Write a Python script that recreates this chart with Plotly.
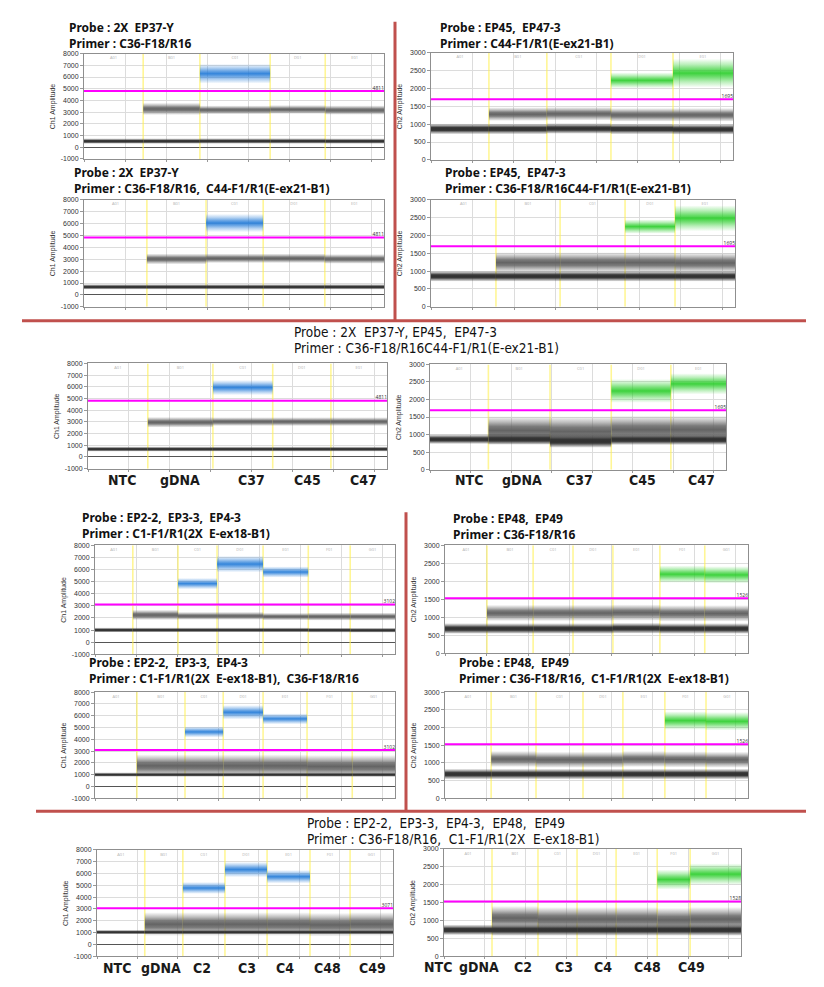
import plotly.graph_objects as go

W, H = 824, 987

# ------------------------------------------------------------------ data
WELLS_A = ["NTC", "gDNA", "C37", "C45", "C47"]
WELLS_B = ["NTC", "gDNA", "C2", "C3", "C4", "C48", "C49"]
IDS_A = ["A01", "B01", "C01", "D01", "E01"]
IDS_B = ["A01", "B01", "C01", "D01", "E01", "F01", "G01"]
CH1_TICKS = [-1000, 0, 1000, 2000, 3000, 4000, 5000, 6000, 7000, 8000]
CH2_TICKS = [0, 500, 1000, 1500, 2000, 2500, 3000]

# panel 1 : Ch1, Probe 2X EP37-Y / Primer C36-F18/R16
P1_EV = [14400, 13800, 17100, 13400, 14300]
P1_NEG = [560, 560, 570, 570, 560]
P1_NEG_SD = [140, 140, 140, 140, 140]
P1_MID = [None, 3300, 3220, 3250, 3200]
P1_MID_SD = [None, 220, 160, 160, 170]
P1_POS = [None, None, 6300, None, None]
P1_POS_SD = [None, None, 420, None, None]
P1_THR = 4811

# panel 2 : Ch2, Probe EP45, EP47-3 / Primer C44-F1/R1
P2_EV = [14000, 14000, 15500, 15000, 14500]
P2_NEG = [880, 880, 890, 880, 870]
P2_NEG_SD = [85, 85, 85, 85, 85]
P2_MID = [None, 1290, 1300, 1270, 1270]
P2_MID_SD = [None, 80, 80, 80, 80]
P2_POS = [None, None, None, 2230, 2430]
P2_POS_SD = [None, None, None, 110, 200]
P2_THR = 1695

# panel 3 : Ch1
P3_EV = [15300, 14400, 13900, 15000, 14400]
P3_NEG = [720, 720, 720, 720, 720]
P3_NEG_SD = [130, 130, 130, 130, 130]
P3_MID = [None, 3050, 3100, 3100, 3050]
P3_MID_SD = [None, 190, 170, 170, 170]
P3_POS = [None, None, 6050, None, None]
P3_POS_SD = [None, None, 380, None, None]
P3_THR = 4811

# panel 4 : Ch2
P4_EV = [15600, 15400, 15600, 12000, 14400]
P4_NEG = [870, 870, 870, 870, 870]
P4_NEG_SD = [85, 85, 85, 85, 85]
P4_MID = [None, 1250, 1250, 1250, 1240]
P4_MID_SD = [None, 120, 120, 120, 120]
P4_POS = [None, None, None, 2250, 2480]
P4_POS_SD = [None, None, None, 100, 180]
P4_THR = 1695

# panel 5 : Ch1 combined
P5_EV = [14600, 15900, 14600, 14200, 13700]
P5_NEG = [720, 720, 720, 720, 720]
P5_NEG_SD = [130, 130, 130, 130, 130]
P5_MID = [None, 3000, 3050, 3050, 3050]
P5_MID_SD = [None, 190, 160, 160, 160]
P5_POS = [None, None, 5950, None, None]
P5_POS_SD = [None, None, 320, None, None]
P5_THR = 4811

# panel 6 : Ch2 combined
P6_EV = [14400, 15200, 15100, 14700, 13600]
P6_NEG = [880, 880, 830, 870, 870]
P6_NEG_SD = [80, 90, 110, 90, 90]
P6_MID = [None, 1130, 1100, 1150, 1150]
P6_MID_SD = [None, 170, 180, 170, 170]
P6_POS = [None, None, None, 2250, 2450]
P6_POS_SD = [None, None, None, 170, 150]
P6_THR = 1695

# panel 7 : Ch1, Probe EP2-2, EP3-3, EP4-3
P7_EV = [9200, 11000, 9500, 11200, 11000, 10200, 10900]
P7_NEG = [1050, 1050, 1050, 1050, 1050, 1040, 1030]
P7_NEG_SD = [120, 120, 120, 120, 120, 120, 120]
P7_MID = [None, 2280, 2200, 2200, 2150, 2150, 2150]
P7_MID_SD = [None, 180, 140, 140, 130, 140, 140]
P7_POS = [None, None, 4850, 6450, 5800, None, None]
P7_POS_SD = [None, None, 230, 340, 230, None, None]
P7_THR = 3102

# panel 8 : Ch2, Probe EP48, EP49
P8_EV = [10100, 11100, 9600, 9600, 11300, 10800, 10400]
P8_NEG = [700, 700, 700, 700, 710, 700, 700]
P8_NEG_SD = [85, 85, 85, 85, 85, 85, 85]
P8_MID = [None, 1130, 1130, 1130, 1140, 1120, 1120]
P8_MID_SD = [None, 95, 95, 95, 95, 95, 95]
P8_POS = [None, None, None, None, None, 2200, 2180]
P8_POS_SD = [None, None, None, None, None, 120, 120]
P8_THR = 1526

# panel 9 : Ch1
P9_EV = [10200, 11700, 9300, 9700, 10700, 11000, 10400]
P9_NEG = [1050, 1050, 1050, 1050, 1050, 1050, 1050]
P9_NEG_SD = [110, 110, 110, 110, 110, 110, 110]
P9_MID = [None, 1800, 1800, 1800, 1800, 1750, 1750]
P9_MID_SD = [None, 400, 400, 400, 400, 400, 400]
P9_POS = [None, None, 4650, 6300, 5750, None, None]
P9_POS_SD = [None, None, 230, 300, 230, None, None]
P9_THR = 3102

# panel 10 : Ch2
P10_EV = [11100, 10800, 11300, 9600, 10100, 9900, 10100]
P10_NEG = [700, 700, 700, 700, 700, 700, 700]
P10_NEG_SD = [85, 85, 85, 85, 85, 85, 85]
P10_MID = [None, 1120, 1100, 1100, 1120, 1110, 1100]
P10_MID_SD = [None, 95, 95, 95, 95, 95, 95]
P10_POS = [None, None, None, None, None, 2200, 2180]
P10_POS_SD = [None, None, None, None, None, 130, 130]
P10_THR = 1526

# panel 11 : Ch1 combined
P11_EV = [11800, 9400, 10400, 10400, 10600, 9900, 10600]
P11_NEG = [1080, 1080, 1080, 1080, 1080, 1080, 1080]
P11_NEG_SD = [110, 110, 110, 110, 110, 110, 110]
P11_MID = [None, 1750, 1750, 1750, 1750, 1700, 1750]
P11_MID_SD = [None, 420, 420, 420, 420, 420, 420]
P11_POS = [None, None, 4800, 6350, 5750, None, None]
P11_POS_SD = [None, None, 250, 320, 280, None, None]
P11_THR = 3071

# panel 12 : Ch2 combined
P12_EV = [11800, 11300, 9600, 9600, 10100, 8100, 12500]
P12_NEG = [750, 750, 750, 750, 750, 750, 750]
P12_NEG_SD = [85, 95, 95, 95, 95, 95, 95]
P12_MID = [None, 1080, 1050, 1050, 1050, 1030, 1050]
P12_MID_SD = [None, 140, 140, 140, 140, 140, 140]
P12_POS = [None, None, None, None, None, 2150, 2300]
P12_POS_SD = [None, None, None, None, None, 140, 150]
P12_THR = 1528

PANELS = [
    (1, P1_EV, P1_NEG, P1_NEG_SD, P1_MID, P1_MID_SD, P1_POS, P1_POS_SD, P1_THR, IDS_A),
    (2, P2_EV, P2_NEG, P2_NEG_SD, P2_MID, P2_MID_SD, P2_POS, P2_POS_SD, P2_THR, IDS_A),
    (1, P3_EV, P3_NEG, P3_NEG_SD, P3_MID, P3_MID_SD, P3_POS, P3_POS_SD, P3_THR, IDS_A),
    (2, P4_EV, P4_NEG, P4_NEG_SD, P4_MID, P4_MID_SD, P4_POS, P4_POS_SD, P4_THR, IDS_A),
    (1, P5_EV, P5_NEG, P5_NEG_SD, P5_MID, P5_MID_SD, P5_POS, P5_POS_SD, P5_THR, IDS_A),
    (2, P6_EV, P6_NEG, P6_NEG_SD, P6_MID, P6_MID_SD, P6_POS, P6_POS_SD, P6_THR, IDS_A),
    (1, P7_EV, P7_NEG, P7_NEG_SD, P7_MID, P7_MID_SD, P7_POS, P7_POS_SD, P7_THR, IDS_B),
    (2, P8_EV, P8_NEG, P8_NEG_SD, P8_MID, P8_MID_SD, P8_POS, P8_POS_SD, P8_THR, IDS_B),
    (1, P9_EV, P9_NEG, P9_NEG_SD, P9_MID, P9_MID_SD, P9_POS, P9_POS_SD, P9_THR, IDS_B),
    (2, P10_EV, P10_NEG, P10_NEG_SD, P10_MID, P10_MID_SD, P10_POS, P10_POS_SD, P10_THR, IDS_B),
    (1, P11_EV, P11_NEG, P11_NEG_SD, P11_MID, P11_MID_SD, P11_POS, P11_POS_SD, P11_THR, IDS_B),
    (2, P12_EV, P12_NEG, P12_NEG_SD, P12_MID, P12_MID_SD, P12_POS, P12_POS_SD, P12_THR, IDS_B),
]

TITLES = [
    ("Probe : 2X  EP37-Y", "Primer : C36-F18/R16"),
    ("Probe : EP45,  EP47-3", "Primer : C44-F1/R1(E-ex21-B1)"),
    ("Probe : 2X  EP37-Y", "Primer : C36-F18/R16,  C44-F1/R1(E-ex21-B1)"),
    ("Probe : EP45,  EP47-3", "Primer : C36-F18/R16C44-F1/R1(E-ex21-B1)"),
    ("Probe : 2X  EP37-Y, EP45,  EP47-3", "Primer : C36-F18/R16C44-F1/R1(E-ex21-B1)"),
    ("Probe : EP2-2,  EP3-3,  EP4-3", "Primer : C1-F1/R1(2X  E-ex18-B1)"),
    ("Probe : EP48,  EP49", "Primer : C36-F18/R16"),
    ("Probe : EP2-2,  EP3-3,  EP4-3", "Primer : C1-F1/R1(2X  E-ex18-B1),  C36-F18/R16"),
    ("Probe : EP48,  EP49", "Primer : C36-F18/R16,  C1-F1/R1(2X  E-ex18-B1)"),
    ("Probe : EP2-2,  EP3-3,  EP4-3,  EP48,  EP49", "Primer : C36-F18/R16,  C1-F1/R1(2X  E-ex18-B1)"),
]

# ------------------------------------------------------------------ layout constants (pixels)
BOXES = [
    (84, 384, 50, 156), (431, 733, 49, 157),
    (84, 384, 197, 305), (431, 735, 197, 305),
    (88, 387, 362, 468), (430, 726, 363, 469),
    (95, 395, 545, 655), (445, 748, 545, 654),
    (95, 395, 693, 800), (445, 748, 693, 800),
    (97, 393, 852, 959), (444, 741, 851, 959),
]
TITLE_POS = [(67, 24, 40, "b"), (438, 24, 40, "b"), (72, 170, 186, "b"), (443, 170, 186, "b"),
             (292, 330, 346, "n"), (80, 517, 533, "b"), (451, 518, 534, "b"),
             (87, 663, 679, "b"), (457, 663, 679, "b"), (305, 825, 841, "n")]
LABEL_ROWS = [
    (WELLS_A, [122, 180, 252, 307, 363], 479),
    (WELLS_A, [469, 522, 579, 642, 701], 479),
    (WELLS_B, [117, 161, 202, 247, 285, 327, 372], 971),
    (WELLS_B, [438, 479, 523, 564, 603, 647, 691], 970),
]
NARROW = "Liberation Sans Narrow, DejaVu Sans Condensed, Arial Narrow, sans-serif"
BOLDF = "Noto Sans, Open Sans, Arial, sans-serif"

NEG_RGB = (48, 48, 48)
MID_RGB = (100, 100, 100)
CH_RGB = {1: (30, 120, 215), 2: (40, 205, 40)}


def px_x(p):
    return p / W


def px_y(p):
    return 1 - p / H


def rgba(c, a):
    return f"rgba({c[0]},{c[1]},{c[2]},{a})"


fig = go.Figure()
layout = dict(width=W, height=H, margin=dict(l=0, r=0, t=0, b=0),
              paper_bgcolor="white", plot_bgcolor="white", showlegend=False)
annotations = []

for i, (ch, ev, neg, negsd, mid, midsd, pos, possd, thr, ids) in enumerate(PANELS):
    n = i + 1
    xa, ya = f"x{n}", f"y{n}"
    bounds = [0]
    for e in ev:
        bounds.append(bounds[-1] + e)
    total = bounds[-1]
    x0s, x1s = bounds[:-1], bounds[1:]
    ymin, ymax = (-1000, 8000) if ch == 1 else (0, 3000)

    # yellow well boundaries
    bx, by = [], []
    for b in bounds[1:-1]:
        bx += [b, b, None]
        by += [ymin, ymax, None]
    fig.add_trace(go.Scatter(x=bx, y=by, xaxis=xa, yaxis=ya, mode="lines",
                             line=dict(color="rgba(255,240,80,0.6)", width=1.6), hoverinfo="skip"))

    def add_band(cs, sds, k, col, peak, shoulder):
        for a, b, c, s in zip(x0s, x1s, cs, sds):
            if c is None:
                continue
            h = s * k
            fig.add_trace(go.Scatter(
                x=[a, b, b, a, a], y=[c - h, c - h, c + h, c + h, c - h],
                xaxis=xa, yaxis=ya, mode="lines", line=dict(width=0), fill="toself",
                fillgradient=dict(type="vertical", start=c - h, stop=c + h, colorscale=[
                    [0.0, rgba(col, 0)], [0.2, rgba(col, shoulder * 0.5)], [0.36, rgba(col, shoulder)],
                    [0.5, rgba(col, peak)], [0.64, rgba(col, shoulder)], [0.8, rgba(col, shoulder * 0.5)],
                    [1.0, rgba(col, 0)]]),
                hoverinfo="skip"))

    add_band(mid, midsd, 2.4, MID_RGB, 1.0, 0.85)
    add_band(neg, negsd, 1.8, NEG_RGB, 1.0, 0.95)
    add_band(pos, possd, 2.0, CH_RGB[ch], 0.9, 0.65)

    # threshold
    fig.add_trace(go.Scatter(x=[0, total], y=[thr, thr], xaxis=xa, yaxis=ya, mode="lines",
                             line=dict(color="#ff00ff", width=2), hoverinfo="skip"))
    fig.add_trace(go.Scatter(x=[total], y=[thr], xaxis=xa, yaxis=ya, mode="text", text=[str(thr)],
                             textposition="top left", textfont=dict(size=5, color="#333"),
                             hoverinfo="skip", cliponaxis=False))
    # well ids just inside the top edge
    centers = [(a + b) / 2 for a, b in zip(x0s, x1s)]
    id_y = ymax - 0.025 * (ymax - ymin)
    fig.add_trace(go.Scatter(x=centers, y=[id_y] * len(centers), xaxis=xa, yaxis=ya, mode="text",
                             text=ids, textposition="bottom center", textfont=dict(size=4, color="#b0b0b0"),
                             hoverinfo="skip", cliponaxis=False))

    X0, X1, Y0, Y1 = BOXES[i]
    ticks = CH1_TICKS if ch == 1 else CH2_TICKS
    layout[f"xaxis{n}"] = dict(domain=[px_x(X0), px_x(X1)], anchor=ya, range=[0, total],
                               dtick=10000, tick0=0, showgrid=True, gridcolor="#dcdcdc", gridwidth=1,
                               showticklabels=False, ticks="outside", ticklen=2, tickcolor="#999",
                               showline=True, mirror=True, linecolor="#8f8f8f", linewidth=1,
                               zeroline=False, fixedrange=True)
    layout[f"yaxis{n}"] = dict(domain=[px_y(Y1), px_y(Y0)], anchor=xa, range=[ymin, ymax],
                               tickvals=ticks, ticktext=[str(t) for t in ticks],
                               tickfont=dict(size=7, color="#333", family="Arial, Liberation Sans"),
                               showgrid=True, gridcolor="#dcdcdc", ticks="outside", ticklen=3,
                               tickcolor="#999", showline=True, mirror=True, linecolor="#8f8f8f",
                               linewidth=1, zeroline=(ch == 1), zerolinecolor="#555",
                               zerolinewidth=1.3, fixedrange=True)
    annotations.append(dict(text=f"Ch{ch} Amplitude", textangle=-90, xref="paper", yref="paper",
                            x=px_x(X0 - 31), y=px_y((Y0 + Y1) / 2), showarrow=False,
                            font=dict(size=7, color="#333", family="Arial, Liberation Sans"),
                            xanchor="center", yanchor="middle"))

# titles
for (t1, t2), (tx, ty1, ty2, sty) in zip(TITLES, TITLE_POS):
    for t, ty in ((t1, ty1), (t2, ty2)):
        if sty == "b":
            txt, fnt = f"<b>{t}</b>", dict(size=12, color="#111", family=BOLDF)
        else:
            txt, fnt = t, dict(size=13.5, color="#111", family=NARROW)
        annotations.append(dict(text=txt, xref="paper", yref="paper", x=px_x(tx), y=px_y(ty),
                                xanchor="left", yanchor="middle", showarrow=False, font=fnt))

# well name labels
for names, xs, yy in LABEL_ROWS:
    for nm, xx in zip(names, xs):
        annotations.append(dict(text=f"<b>{nm}</b>", xref="paper", yref="paper", x=px_x(xx), y=px_y(yy),
                                xanchor="center", yanchor="middle", showarrow=False,
                                font=dict(size=14, color="#1a1a1a", family=NARROW)))

RED = "#c0504d"
shapes = [
    dict(type="line", xref="paper", yref="paper", x0=px_x(395), x1=px_x(395), y0=px_y(18), y1=px_y(319),
         line=dict(color=RED, width=3)),
    dict(type="line", xref="paper", yref="paper", x0=px_x(22), x1=px_x(806), y0=px_y(319), y1=px_y(319),
         line=dict(color=RED, width=3)),
    dict(type="line", xref="paper", yref="paper", x0=px_x(406), x1=px_x(406), y0=px_y(512), y1=px_y(813),
         line=dict(color=RED, width=3)),
    dict(type="line", xref="paper", yref="paper", x0=px_x(36), x1=px_x(806), y0=px_y(813), y1=px_y(813),
         line=dict(color=RED, width=3)),
]

layout["annotations"] = annotations
layout["shapes"] = shapes
fig.update_layout(**layout)

fig.write_html("out.html", config={"displayModeBar": False},
               post_script="document.body.style.margin='0';document.body.style.overflow='hidden';")
